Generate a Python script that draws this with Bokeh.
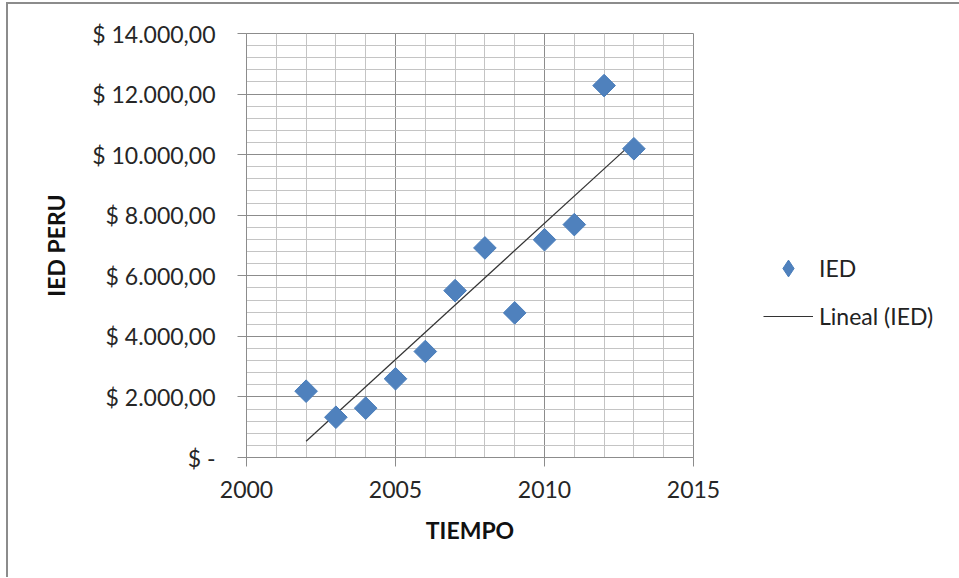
import numpy as np
from bokeh.plotting import figure
from bokeh.models import Range1d, FixedTicker, Legend, LegendItem, ColumnDataSource
from bokeh.embed import file_html
from bokeh.resources import INLINE

years = [2002, 2003, 2004, 2005, 2006, 2007, 2008, 2009, 2010, 2011, 2012, 2013]
ied = [2190, 1330, 1630, 2600, 3500, 5510, 6920, 4775, 7190, 7690, 12280, 10195]

x_ticks = [2000, 2005, 2010, 2015]
x_minor = list(range(2000, 2016))
y_ticks = [0, 2000, 4000, 6000, 8000, 10000, 12000, 14000]
y_minor = list(range(0, 14001, 400))
y_labels = ["$ -", "$ 2.000,00", "$ 4.000,00", "$ 6.000,00", "$ 8.000,00",
            "$ 10.000,00", "$ 12.000,00", "$ 14.000,00"]

FONT = "Lato"
MAJOR = "#8C8C8C"
MINOR = "#C4C4C4"
BLUE = "#4F81BD"

p = figure(frame_width=447, frame_height=424, output_backend="svg",
           toolbar_location=None,
           x_range=Range1d(2000, 2015), y_range=Range1d(0, 14000),
           min_border_left=238, min_border_top=29,
           min_border_right=249, min_border_bottom=120)
p.styles = {"margin-left": "6px", "margin-top": "2px",
            "border-left": "2px solid #8C8C8C", "border-top": "2px solid #8C8C8C"}
p.background_fill_color = "white"
p.border_fill_color = "white"
p.outline_line_color = MAJOR

# grids
p.xgrid.ticker = FixedTicker(ticks=x_ticks, minor_ticks=x_minor)
p.ygrid.ticker = FixedTicker(ticks=y_ticks, minor_ticks=y_minor)
for g in (p.xgrid, p.ygrid):
    g.grid_line_color = MAJOR
    g.grid_line_width = 1
    g.minor_grid_line_color = MINOR
    g.minor_grid_line_width = 1

# axes
p.xaxis.ticker = FixedTicker(ticks=x_ticks)
p.yaxis.ticker = FixedTicker(ticks=y_ticks)
p.yaxis.major_label_overrides = {t: l for t, l in zip(y_ticks, y_labels)}
for ax in (p.xaxis, p.yaxis):
    ax.axis_line_color = MAJOR
    ax.major_tick_line_color = MAJOR
    ax.major_tick_out = 9
    ax.major_tick_in = 0
    ax.minor_tick_line_color = None
    ax.major_label_text_font = FONT
    ax.major_label_text_font_size = "23px"
    ax.major_label_text_color = "#262626"
    ax.axis_label_text_font = FONT
    ax.axis_label_text_font_size = "23px"
    ax.axis_label_text_font_style = "bold"
    ax.axis_label_text_color = "#111111"
p.xaxis.major_label_standoff = 14
p.yaxis.major_label_standoff = 22
p.xaxis.axis_label = "TIEMPO"
p.yaxis.axis_label = "IED PERU"
p.xaxis.axis_label_standoff = 15
p.yaxis.axis_label_standoff = 19

# trend line (least squares fit of the data)
coef = np.polyfit(years, ied, 1)
tx = [years[0], years[-1]]
ty = [float(np.polyval(coef, v)) for v in tx]
trend = p.line(tx, ty, line_color="#333333", line_width=1.2)

src = ColumnDataSource(dict(x=years, y=ied))
# legend key: legend markers are drawn unrotated, so a diamond marker (hidden
# underneath the rotated squares) stands in for the legend entry
pts_key = p.scatter("x", "y", source=src, marker="diamond", size=14,
                    fill_color=BLUE, line_color="#4A7EBB", line_width=1)
pts = p.scatter("x", "y", source=src, marker="square", angle=np.pi / 4, size=16,
                fill_color=BLUE, line_color="#4A7EBB", line_width=1)

legend = Legend(items=[LegendItem(label="IED", renderers=[pts_key]),
                       LegendItem(label="Lineal (IED)", renderers=[trend])],
                location=(70, 120), orientation="vertical")
legend.padding = 0
legend.margin = 0
legend.spacing = 6
legend.glyph_width = 50
legend.glyph_height = 42
legend.label_height = 42
legend.label_standoff = 6
legend.label_text_font = FONT
legend.label_text_font_size = "23px"
legend.label_text_color = "#222222"
legend.border_line_color = None
legend.background_fill_alpha = 0
p.add_layout(legend, "right")

open("out.html", "w").write(file_html(p, INLINE))
